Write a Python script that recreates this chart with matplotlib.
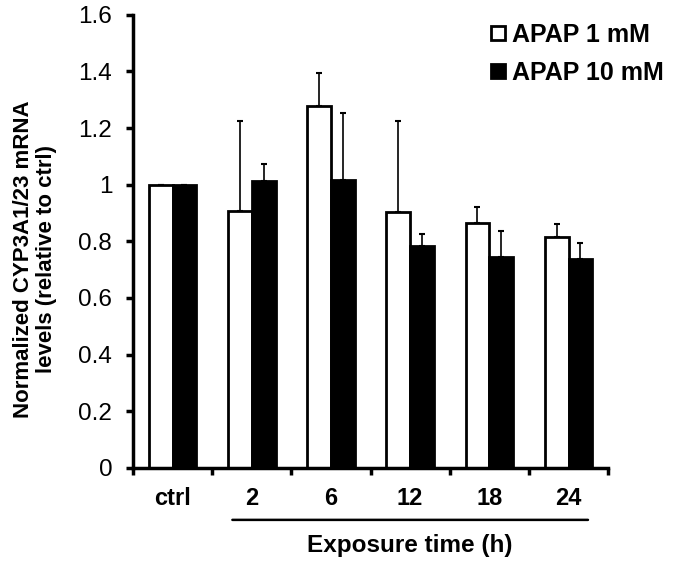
import numpy as np
import matplotlib
matplotlib.use("Agg")
import matplotlib.pyplot as plt
from matplotlib.lines import Line2D

plt.rcParams["font.family"] = ["Liberation Sans", "DejaVu Sans"]

categories = ["ctrl", "2", "6", "12", "18", "24"]
apap1 = [1.0, 0.906, 1.277, 0.902, 0.865, 0.814]
apap1_err = [0.0, 0.318, 0.118, 0.322, 0.056, 0.047]
apap10 = [1.0, 1.012, 1.018, 0.782, 0.743, 0.739]
apap10_err = [0.0, 0.061, 0.235, 0.045, 0.094, 0.055]

fig = plt.figure(figsize=(6.75, 5.67), dpi=100)
ax = fig.add_axes([0.197, 0.175, 0.704, 0.799])

x = np.arange(len(categories))
w = 0.3
ax.bar(x - w / 2, apap1, w, color="white", edgecolor="black", linewidth=2,
       zorder=2)
ax.bar(x + w / 2, apap10, w, color="black", edgecolor="black", linewidth=2,
       zorder=2)
ax.errorbar(x - w / 2, apap1, yerr=[np.zeros(len(x)), apap1_err], fmt="none",
            ecolor="black", elinewidth=1.2, capsize=2.5, capthick=1.5, zorder=1)
ax.errorbar(x + w / 2, apap10, yerr=[np.zeros(len(x)), apap10_err], fmt="none",
            ecolor="black", elinewidth=1.2, capsize=2.5, capthick=1.5, zorder=1)

ax.set_xlim(-0.5, len(categories) - 0.5)
ax.set_ylim(0, 1.6)
ax.set_yticks(np.arange(0, 1.61, 0.2))
ax.set_yticklabels(["0", "0.2", "0.4", "0.6", "0.8", "1", "1.2", "1.4", "1.6"])

# category labels between boundary ticks
ax.set_xticks(np.arange(-0.5, len(categories), 1.0))
ax.set_xticklabels([])
ax.set_xticks(x, minor=True)
ax.set_xticklabels(categories, minor=True, fontweight="bold")
ax.tick_params(axis="x", which="minor", length=0, pad=14, labelsize=17)
ax.tick_params(axis="x", which="major", direction="out", length=5, width=2.5)
ax.tick_params(axis="y", direction="out", length=5, width=2.5, labelsize=17.5,
               pad=10)

for s in ["top", "right"]:
    ax.spines[s].set_visible(False)
for s in ["left", "bottom"]:
    ax.spines[s].set_linewidth(2.5)

ax.set_ylabel("Normalized CYP3A1/23 mRNA\nlevels (relative to ctrl)",
              fontsize=16, fontweight="bold", linespacing=1.15)
ax.yaxis.set_label_coords(-0.16, 0.46)

# underline below the exposure times and label
ax.annotate("", xy=(0.72, -0.115), xytext=(5.28, -0.115),
            xycoords=("data", "axes fraction"), textcoords=("data", "axes fraction"),
            arrowprops=dict(arrowstyle="-", color="black", lw=1.8),
            annotation_clip=False)
ax.text(3.0, -0.172, "Exposure time (h)", transform=ax.get_xaxis_transform(),
        ha="center", va="center", fontsize=17.5, fontweight="bold")

handles = [
    Line2D([0], [0], marker="s", linestyle="none", markersize=10,
           markerfacecolor="white", markeredgecolor="black", markeredgewidth=2),
    Line2D([0], [0], marker="s", linestyle="none", markersize=10,
           markerfacecolor="black", markeredgecolor="black", markeredgewidth=2),
]
fig.legend(handles, ["APAP 1 mM", "APAP 10 mM"], loc="upper left",
           bbox_to_anchor=(0.71, 0.977), frameon=False,
           handletextpad=0.2, handlelength=0.7, labelspacing=0.56,
           borderaxespad=0, prop={"size": 18, "weight": "bold"})

fig.savefig("out.png", dpi=100)
